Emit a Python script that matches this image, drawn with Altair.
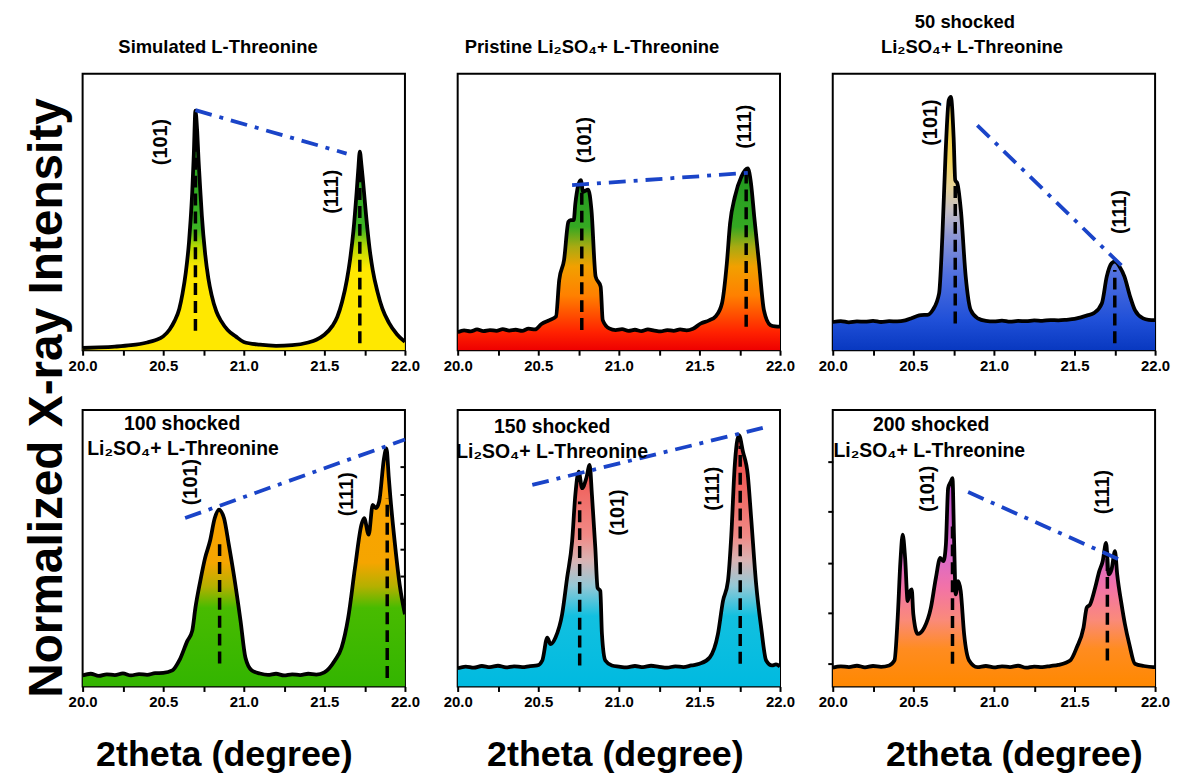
import altair as alt
import pandas as pd

# ---------------- data ----------------
X_TICKS = [20.0, 20.25, 20.5, 20.75, 21.0, 21.25, 21.5, 21.75, 22.0]
PEAK_NAMES = ["(101)", "(111)"]
SUB_LINE = "Li₂SO₄+ L-Threonine"

# Panel 1 : Simulated L-Threonine
SIM_X = [20.00, 20.10, 20.20, 20.30, 20.40, 20.45, 20.50, 20.54, 20.57, 20.60, 20.62, 20.64,
         20.66, 20.67, 20.68, 20.69, 20.70, 20.71, 20.72, 20.73, 20.74, 20.76, 20.78, 20.80,
         20.83, 20.86, 20.90, 20.95, 21.00, 21.10, 21.20, 21.30, 21.40, 21.45, 21.50, 21.55,
         21.58, 21.61, 21.64, 21.66, 21.68, 21.70, 21.71, 21.72, 21.73, 21.74, 21.76, 21.78,
         21.80, 21.83, 21.86, 21.90, 21.95, 22.00]
SIM_Y = [0.8, 1.0, 1.3, 1.8, 2.8, 3.6, 5.0, 7.5, 10.5, 15.0, 20.5, 28.0,
         39.0, 47.0, 57.0, 71.0, 86.6, 80.0, 68.0, 58.0, 48.5, 35.0, 26.0, 20.0,
         14.0, 10.5, 7.3, 5.0, 3.0, 2.0, 1.6, 1.8, 2.8, 3.8, 5.6, 8.8,
         12.0, 17.5, 25.5, 33.0, 43.0, 57.0, 65.0, 71.8, 67.0, 61.0, 48.0, 37.0,
         29.0, 21.0, 15.0, 10.0, 5.8, 3.0]
SIM_LBL_X = [20.486, 21.545]
SIM_LBL_Y = [75.3, 57.3]
SIM_BLUE_X = [20.70, 21.638]
SIM_BLUE_Y = [86.8, 71.1]
SIM_DASH_X = [20.70, 21.72]
SIM_DASH_Y0 = [7.0, 2.5]
SIM_DASH_Y1 = [80.0, 66.0]

# Panel 2 : Pristine
PRI_X = [20.00, 20.04, 20.08, 20.12, 20.16, 20.20, 20.24, 20.28, 20.32, 20.36, 20.40, 20.44,
         20.48, 20.52, 20.57, 20.61, 20.63, 20.66, 20.687, 20.70, 20.72, 20.73, 20.764, 20.778,
         20.81, 20.83, 20.856, 20.887, 20.90, 20.94, 20.98, 21.02, 21.06, 21.10, 21.14, 21.18,
         21.22, 21.26, 21.30, 21.34, 21.38, 21.42, 21.46, 21.51, 21.56, 21.60, 21.64, 21.67,
         21.69, 21.72, 21.76, 21.80, 21.82, 21.84, 21.87, 21.90, 21.94, 21.97, 22.00]
PRI_Y = [6.5, 7.2, 6.8, 7.5, 6.9, 7.3, 7.0, 7.6, 7.1, 7.4, 7.0, 7.8,
         7.5, 9.5, 10.9, 12.2, 25.4, 32.6, 46.4, 47.0, 47.0, 53.0, 61.5, 57.3,
         58.1, 50.7, 26.6, 23.0, 10.9, 7.9, 7.3, 7.6, 7.0, 7.4, 6.9, 7.5,
         7.1, 6.8, 7.3, 7.0, 7.5, 7.2, 7.8, 9.7, 10.8, 12.2, 17.0, 31.4,
         45.8, 55.5, 62.7, 65.7, 60.3, 48.3, 31.4, 14.5, 9.1, 8.6, 8.5]
PRI_LBL_X = [20.79, 21.78]
PRI_LBL_Y = [76.0, 80.8]
PRI_BLUE_X = [20.71, 21.82]
PRI_BLUE_Y = [59.7, 64.2]
PRI_DASH_X = [20.77, 21.79]
PRI_DASH_Y0 = [7.3, 8.5]
PRI_DASH_Y1 = [59.7, 64.0]

# Panel 3 : 50 shocked
S50_X = [20.00, 20.05, 20.10, 20.15, 20.20, 20.25, 20.30, 20.35, 20.40, 20.45, 20.486, 20.52,
         20.547, 20.588, 20.62, 20.66, 20.68, 20.70, 20.72, 20.733, 20.75, 20.76, 20.773, 20.795,
         20.825, 20.856, 20.90, 20.95, 21.00, 21.05, 21.10, 21.15, 21.20, 21.25, 21.30, 21.35,
         21.40, 21.45, 21.50, 21.535, 21.58, 21.62, 21.67, 21.70, 21.73, 21.75, 21.78, 21.81,
         21.845, 21.875, 21.926, 21.96, 22.00]
S50_Y = [10.2, 10.5, 10.1, 10.4, 10.3, 10.6, 10.2, 10.5, 10.4, 10.8, 11.5, 12.3,
         12.7, 12.8, 14.5, 20.6, 41.0, 71.0, 90.4, 91.6, 77.0, 61.5, 60.3, 50.6,
         26.6, 14.5, 11.5, 10.6, 10.4, 10.7, 10.3, 10.6, 10.5, 10.8, 10.6, 10.9,
         10.8, 11.0, 11.3, 11.8, 12.6, 13.4, 17.0, 26.6, 31.4, 32.0, 30.2, 26.6,
         19.4, 14.5, 11.5, 11.0, 10.9]
S50_LBL_X = [20.61, 21.78]
S50_LBL_Y = [82.3, 50.0]
S50_BLUE_X = [20.897, 21.82]
S50_BLUE_Y = [81.3, 29.0]
S50_DASH_X = [20.76, 21.75]
S50_DASH_Y0 = [9.7, 2.5]
S50_DASH_Y1 = [60.0, 29.0]

# Panel 4 : 100 shocked
S100_X = [20.00, 20.05, 20.10, 20.15, 20.20, 20.25, 20.30, 20.35, 20.40, 20.45, 20.50, 20.557,
          20.60, 20.65, 20.68, 20.70, 20.73, 20.76, 20.79, 20.82, 20.846, 20.877, 20.907, 20.938,
          20.98, 21.01, 21.05, 21.10, 21.15, 21.20, 21.25, 21.30, 21.35, 21.40, 21.45, 21.50,
          21.565, 21.607, 21.648, 21.69, 21.73, 21.747, 21.775, 21.80, 21.82, 21.84, 21.87, 21.885,
          21.90, 21.91, 21.936, 21.967, 22.00]
S100_Y = [4.0, 4.6, 3.8, 4.4, 4.1, 4.7, 4.0, 4.5, 4.2, 4.8, 4.9, 5.8,
          9.4, 16.5, 20.1, 28.5, 38.1, 46.5, 52.5, 60.9, 63.9, 60.9, 51.3, 40.5,
          23.7, 10.5, 5.8, 4.7, 4.2, 4.6, 4.0, 4.4, 4.1, 4.6, 4.3, 5.1,
          9.4, 14.1, 24.9, 42.9, 58.5, 60.9, 54.9, 65.7, 64.5, 66.9, 82.5, 86.1,
          75.3, 68.1, 52.5, 36.9, 26.1]
S100_LBL_X = [20.67, 21.64]
S100_LBL_Y = [73.9, 69.5]
S100_BLUE_X = [20.636, 22.0]
S100_BLUE_Y = [60.9, 89.3]
S100_DASH_X = [20.85, 21.89]
S100_DASH_Y0 = [8.3, 3.1]
S100_DASH_Y1 = [52.5, 68.0]
S100_YTICKS = [9.4, 19.4, 29.9, 39.9, 49.6, 59.0, 69.4, 79.5]

# Panel 5 : 150 shocked
S150_X = [20.00, 20.05, 20.10, 20.15, 20.20, 20.25, 20.30, 20.35, 20.40, 20.45, 20.494, 20.525,
          20.556, 20.576, 20.607, 20.648, 20.679, 20.71, 20.73, 20.751, 20.772, 20.798, 20.819, 20.833,
          20.854, 20.868, 20.885, 20.895, 20.916, 20.957, 21.00, 21.05, 21.10, 21.15, 21.20, 21.25,
          21.30, 21.35, 21.40, 21.45, 21.50, 21.564, 21.615, 21.646, 21.677, 21.698, 21.718, 21.745,
          21.770, 21.80, 21.821, 21.852, 21.883, 21.914, 21.95, 21.975, 22.00]
S150_Y = [6.6, 7.2, 6.8, 7.4, 7.0, 7.5, 6.9, 7.3, 7.0, 7.4, 7.6, 9.4,
          17.7, 15.3, 17.7, 26.1, 39.3, 52.5, 69.3, 77.7, 71.7, 75.3, 80.1, 69.3,
          50.1, 35.7, 34.5, 19.0, 9.4, 7.6, 7.2, 6.9, 7.4, 7.0, 7.5, 7.1,
          6.8, 7.3, 7.0, 7.6, 8.2, 10.5, 19.0, 30.9, 38.1, 54.9, 78.9, 90.9,
          84.9, 76.5, 60.9, 36.9, 21.3, 9.4, 7.6, 8.0, 7.2]
S150_LBL_X = [20.998, 21.585]
S150_LBL_Y = [62.9, 71.5]
S150_BLUE_X = [20.463, 21.893]
S150_BLUE_Y = [72.9, 93.5]
S150_DASH_X = [20.757, 21.753]
S150_DASH_Y0 = [7.6, 8.2]
S150_DASH_Y1 = [66.9, 87.0]

# Panel 6 : 200 shocked
S200_X = [20.00, 20.05, 20.10, 20.15, 20.20, 20.25, 20.30, 20.35, 20.383, 20.403, 20.42, 20.434,
          20.449, 20.465, 20.48, 20.49, 20.50, 20.527, 20.568, 20.609, 20.64, 20.667, 20.687, 20.702,
          20.716, 20.733, 20.743, 20.753, 20.763, 20.778, 20.794, 20.815, 20.846, 20.897, 20.95, 21.00,
          21.05, 21.10, 21.15, 21.20, 21.25, 21.30, 21.35, 21.40, 21.473, 21.514, 21.556, 21.576,
          21.597, 21.628, 21.654, 21.675, 21.696, 21.712, 21.73, 21.751, 21.765, 21.792, 21.813, 21.84,
          21.875, 21.93, 21.988, 22.00]
S200_Y = [6.8, 7.3, 7.0, 7.5, 6.9, 7.4, 7.1, 7.6, 9.4, 24.9, 45.3, 54.9,
          46.5, 30.9, 34.5, 35.1, 26.1, 19.0, 21.3, 28.5, 39.3, 46.5, 45.3, 51.3,
          71.7, 74.1, 75.3, 52.5, 33.3, 38.1, 34.5, 19.0, 9.4, 7.0, 7.4, 6.9,
          7.3, 7.0, 7.5, 6.8, 7.2, 7.0, 7.4, 7.8, 9.4, 14.1, 21.3, 28.5,
          29.7, 35.7, 41.7, 45.3, 51.9, 40.5, 42.3, 48.9, 40.5, 29.7, 22.5, 15.3,
          8.2, 7.4, 7.0, 7.0]
S200_LBL_X = [20.589, 21.679]
S200_LBL_Y = [71.5, 70.3]
S200_BLUE_X = [20.84, 21.778]
S200_BLUE_Y = [70.3, 45.9]
S200_DASH_X = [20.743, 21.704]
S200_DASH_Y0 = [8.2, 9.4]
S200_DASH_Y1 = [60.0, 48.9]
S200_YTICKS = [8.3, 26.6, 44.6, 63.3, 81.3]

# panel titles (text, x, y in data units)
T1 = (["Simulated L-Threonine"], [20.84], [109.7])
T2 = (["Pristine " + SUB_LINE], [20.833], [109.7])
T3 = (["50 shocked", SUB_LINE], [20.82, 20.864], [118.5, 109.5])
T4 = (["100 shocked", SUB_LINE], [20.617, 20.623], [95.0, 86.0])
T5 = (["150 shocked", SUB_LINE], [20.586, 20.586], [93.9, 84.9])
T6 = (["200 shocked", SUB_LINE], [20.611, 20.599], [94.6, 85.3])

Y_TITLE = "Normalized X-ray Intensity"
X_TITLE = "2theta (degree)"

# ---------------- styles ----------------
FONT = "Liberation Sans, Arial, Helvetica, sans-serif"
BLUE = "#1a44c8"
W, H = 324, 278

G1 = [(0, "#FFE800"), (0.34, "#FFE800"), (0.43, "#BCDA00"), (0.51, "#3CB424"), (1, "#1E9A1E")]
G2 = [(0, "#EE0000"), (0.1, "#FF2200"), (0.3, "#FF8000"), (0.46, "#F2A000"), (0.57, "#A8AA12"),
      (0.68, "#34A822"), (1, "#1F981F")]
G3 = [(0, "#0838C0"), (0.12, "#2050D8"), (0.3, "#5070E0"), (0.45, "#8C96D6"), (0.55, "#C4BEC4"),
      (0.65, "#E8D496"), (0.75, "#F5D65A"), (1, "#F0CA40")]
G4 = [(0, "#33B500"), (0.33, "#48BB00"), (0.42, "#B4B000"), (0.52, "#F5A500"), (1, "#FFA200")]
G5 = [(0, "#00BAE0"), (0.28, "#12C0E0"), (0.4, "#94C8D6"), (0.5, "#D8B4B4"), (0.6, "#F08A86"),
      (0.85, "#F05A55"), (1, "#EE4848")]
G6 = [(0, "#FF8800"), (0.18, "#FF8C20"), (0.32, "#FA8A7A"), (0.48, "#F272A8"), (0.62, "#DA6AC8"),
      (1, "#C050D0")]


def panel(xs, ys, stops, lbl_x, lbl_y, blue_x, blue_y, dash_x, dash_y0, dash_y1, titles,
          title_size, xtitle_x=None, ytick_vals=None, ytick_orient="left", ytitle=False):
    xscale = alt.Scale(domain=[20, 22], nice=False, zero=False)
    yscale = alt.Scale(domain=[0, 100], nice=False, zero=False)
    ax_kw = dict(values=X_TICKS, labelExpr="datum.value % 0.5 == 0 ? format(datum.value, '.1f') : ''",
                 labelFlush=False, labelOverlap=False, domain=False, grid=False, tickSize=5,
                 tickWidth=2, tickColor="black", labelFont=FONT, labelFontSize=15,
                 labelFontWeight="bold", labelColor="black", labelPadding=3)
    if xtitle_x is not None:
        ax_kw.update(title=X_TITLE, titleFont=FONT, titleFontSize=36, titleFontWeight="bold",
                     titleColor="black", titleX=xtitle_x, titleY=79, titleBaseline="alphabetic",
                     titleAlign="center")
    else:
        ax_kw.update(title=None)
    xaxis = alt.Axis(**ax_kw)
    if ytick_vals is not None:
        ykw = dict(values=ytick_vals, labels=False, domain=False, grid=False, tickSize=5,
                   tickWidth=2, tickColor="black", title=None, orient=ytick_orient)
        if ytick_orient == "right":
            ykw["offset"] = -5
        yaxis = alt.Axis(**ykw)
    else:
        yaxis = None
    X = alt.X("x:Q", scale=xscale, axis=xaxis)
    Y = alt.Y("y:Q", scale=yscale, axis=yaxis)

    grad = alt.Gradient(gradient="linear",
                        stops=[alt.GradientStop(color=c, offset=o) for o, c in stops],
                        x1=0, x2=0, y1=1, y2=0)
    curve = pd.DataFrame({"x": xs, "y": ys})
    area = alt.Chart(curve).mark_area(color=grad, interpolate="monotone", clip=True).encode(x=X, y=Y)
    line = alt.Chart(curve).mark_line(color="black", strokeWidth=3.8, interpolate="monotone",
                                      strokeJoin="round", clip=True).encode(x=X, y=Y)
    dashes = alt.Chart(pd.DataFrame({"x": dash_x, "y": dash_y0, "y2": dash_y1})).mark_rule(
        color="black", strokeWidth=3.5, strokeDash=[12, 6]).encode(x=X, y=Y, y2="y2:Q")
    blue = alt.Chart(pd.DataFrame({"x": blue_x, "y": blue_y})).mark_line(
        color=BLUE, strokeWidth=3.8, strokeDash=[17, 8, 4, 8]).encode(x=X, y=Y)
    labels = alt.Chart(pd.DataFrame({"x": lbl_x, "y": lbl_y, "t": PEAK_NAMES})).mark_text(
        angle=270, font=FONT, fontSize=20, fontWeight="bold", color="black",
        align="center", baseline="middle").encode(x=X, y=Y, text="t:N")
    tt, tx, ty = titles
    tlayer = alt.Chart(pd.DataFrame({"x": tx, "y": ty, "t": tt})).mark_text(
        font=FONT, fontSize=title_size, fontWeight="bold", color="black",
        align="center", baseline="middle").encode(x=X, y=Y, text="t:N")
    layers = [area, dashes, line, blue, labels, tlayer]
    if ytitle:
        yt = alt.Chart(pd.DataFrame({"x": [19.870], "y": [104.3], "t": [Y_TITLE]})).mark_text(
            angle=270, font=FONT, fontSize=48, fontWeight="bold", color="black",
            align="center", baseline="alphabetic").encode(x=X, y=Y, text="t:N")
        layers.append(yt)
    return alt.layer(*layers).properties(width=W, height=H)


p1 = panel(SIM_X, SIM_Y, G1, SIM_LBL_X, SIM_LBL_Y, SIM_BLUE_X, SIM_BLUE_Y,
           SIM_DASH_X, SIM_DASH_Y0, SIM_DASH_Y1, T1, 18.5)
p2 = panel(PRI_X, PRI_Y, G2, PRI_LBL_X, PRI_LBL_Y, PRI_BLUE_X, PRI_BLUE_Y,
           PRI_DASH_X, PRI_DASH_Y0, PRI_DASH_Y1, T2, 18.5)
p3 = panel(S50_X, S50_Y, G3, S50_LBL_X, S50_LBL_Y, S50_BLUE_X, S50_BLUE_Y,
           S50_DASH_X, S50_DASH_Y0, S50_DASH_Y1, T3, 18.5)
p4 = panel(S100_X, S100_Y, G4, S100_LBL_X, S100_LBL_Y, S100_BLUE_X, S100_BLUE_Y,
           S100_DASH_X, S100_DASH_Y0, S100_DASH_Y1, T4, 19.5, xtitle_x=142,
           ytick_vals=S100_YTICKS, ytick_orient="right", ytitle=True)
p5 = panel(S150_X, S150_Y, G5, S150_LBL_X, S150_LBL_Y, S150_BLUE_X, S150_BLUE_Y,
           S150_DASH_X, S150_DASH_Y0, S150_DASH_Y1, T5, 19.5, xtitle_x=158)
p6 = panel(S200_X, S200_Y, G6, S200_LBL_X, S200_LBL_Y, S200_BLUE_X, S200_BLUE_Y,
           S200_DASH_X, S200_DASH_Y0, S200_DASH_Y1, T6, 19.5, xtitle_x=182,
           ytick_vals=S200_YTICKS, ytick_orient="left")

chart = alt.concat(p1, p2, p3, p4, p5, p6, columns=3, spacing={"row": 60, "column": 53},
                   bounds="flush").properties(
    padding={"left": 14, "top": 2, "right": 0, "bottom": 0}
).configure_view(stroke="black", strokeWidth=2)

chart.save("out.html", embed_options={"renderer": "svg", "actions": False})
